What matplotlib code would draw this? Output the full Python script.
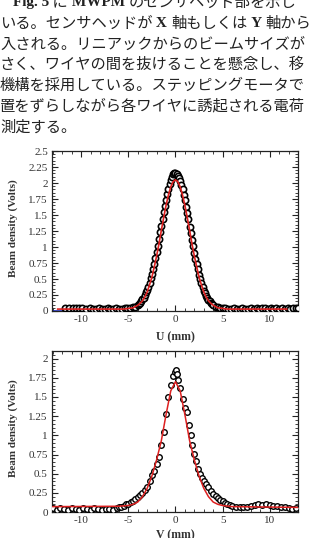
import matplotlib
matplotlib.use("Agg")
import matplotlib.pyplot as plt
from matplotlib.ticker import MultipleLocator

plt.rcParams["axes.unicode_minus"] = False

# ---- body text above the figure (each line: list of (segment, is_latin)) ----
text_lines = [
    [("Fig. 5", True), (" に", False), (" MWPM ", True), ("のセンサヘッド部を示し", False)],
    [("いる。センサヘッドが", False), (" X ", True), ("軸もしくは", False), (" Y ", True), ("軸から", False)],
    [("入される。リニアックからのビームサイズが", False)],
    [("さく、ワイヤの間を抜けることを懸念し、移", False)],
    [("機構を採用している。ステッピングモータで", False)],
    [("置をずらしながら各ワイヤに誘起される電荷", False)],
    [("測定する。", False)],
]

# ---- U profile (top panel) ----
u_pos = [-11.7, -11.3, -10.9, -10.6, -10.2, -9.9, -9.5, -9.1, -8.7, -8.4, -8.1, -7.8,
         -7.5, -7.2, -6.9, -6.6, -6.3, -6.0, -5.7, -5.4, -5.1, -4.8, -4.5, -4.25,
         -4.0, -3.875, -3.75, -3.625, -3.5, -3.375, -3.25, -3.125, -3.0, -2.875, -2.75,
         -2.625, -2.5, -2.375, -2.25, -2.125, -2.0, -1.875, -1.75, -1.625, -1.5, -1.375,
         -1.25, -1.125, -1.0, -0.875, -0.75, -0.625, -0.5, -0.375, -0.25, -0.125, 0.0,
         0.125, 0.25, 0.375, 0.5, 0.625, 0.75, 0.875, 1.0, 1.125, 1.25, 1.375, 1.5,
         1.625, 1.75, 1.875, 2.0, 2.125, 2.25, 2.375, 2.5, 2.625, 2.75, 2.875, 3.0,
         3.125, 3.25, 3.375, 3.5, 3.625, 3.75, 3.875, 4.0, 4.25, 4.5, 4.75, 5.0, 5.3,
         5.6, 5.9, 6.2, 6.5, 6.8, 7.1, 7.4, 7.7, 8.0, 8.3, 8.6, 8.9, 9.2, 9.5, 9.8,
         10.1, 10.4, 10.7, 11.0, 11.3, 11.6, 11.9, 12.2, 12.5, 12.8, 13.0]
u_density = [0.05, 0.04, 0.05, 0.04, 0.05, 0.04, 0.03, 0.04, 0.03, 0.03, 0.04, 0.03,
             0.03, 0.04, 0.03, 0.03, 0.04, 0.03, 0.03, 0.04, 0.04, 0.05, 0.06, 0.07,
             0.10, 0.11, 0.13, 0.15, 0.18, 0.21, 0.25, 0.29, 0.33, 0.38, 0.44,
             0.51, 0.58, 0.66, 0.74, 0.83, 0.92, 1.02, 1.12, 1.23, 1.33, 1.44,
             1.54, 1.64, 1.74, 1.83, 1.91, 1.98, 2.04, 2.09, 2.14, 2.16, 2.15,
             2.14, 2.11, 2.08, 2.03, 1.97, 1.90, 1.82, 1.73, 1.63, 1.53, 1.43, 1.32,
             1.22, 1.11, 1.01, 0.91, 0.82, 0.73, 0.65, 0.57, 0.50, 0.43, 0.37, 0.32,
             0.28, 0.24, 0.20, 0.17, 0.15, 0.12, 0.11, 0.09, 0.07, 0.06, 0.05, 0.04, 0.04,
             0.03, 0.03, 0.04, 0.03, 0.03, 0.04, 0.03, 0.03, 0.04, 0.03, 0.04, 0.03, 0.04, 0.04, 0.03,
             0.04, 0.03, 0.04, 0.03, 0.04, 0.03, 0.04, 0.03, 0.04, 0.05, 0.04]
u_fit_pos = [-12.5, -5.5, -5.0, -4.5, -4.0, -3.75, -3.5, -3.25, -3.0, -2.75, -2.5, -2.25,
             -2.0, -1.75, -1.5, -1.25, -1.0, -0.75, -0.5, -0.25, 0.0, 0.25, 0.5, 0.75,
             1.0, 1.25, 1.5, 1.75, 2.0, 2.25, 2.5, 2.75, 3.0, 3.25, 3.5, 3.75, 4.0, 4.5,
             5.0, 5.5, 11.8]
u_fit = [0.03, 0.03, 0.04, 0.05, 0.09, 0.12, 0.16, 0.22, 0.30, 0.41, 0.53, 0.69,
         0.86, 1.05, 1.26, 1.46, 1.65, 1.81, 1.94, 2.02, 2.05, 2.02, 1.94, 1.81,
         1.65, 1.46, 1.26, 1.05, 0.86, 0.69, 0.53, 0.41, 0.30, 0.22, 0.16, 0.12, 0.09, 0.05,
         0.04, 0.03, 0.03]
u_zero_left = [-13.1, -8.3]
u_zero_right = [12.4, 13.0]

# ---- V profile (bottom panel) ----
v_pos = [-13.0, -12.6, -12.2, -11.8, -11.4, -11.0, -10.6, -10.2, -9.8, -9.4, -9.0,
         -8.6, -8.2, -7.8, -7.4, -7.0, -6.6, -6.2, -6.0, -5.75, -5.5, -5.25, -5.0,
         -4.75, -4.5, -4.25, -4.0, -3.75, -3.5, -3.25, -3.0, -2.75, -2.5, -2.25, -2.0,
         -1.75, -1.5, -1.25, -1.0, -0.75, -0.5, -0.25, -0.1, 0.05, 0.2, 0.3, 0.5, 0.75,
         1.0, 1.2, 1.4, 1.6, 1.8, 2.0, 2.2, 2.4, 2.6, 2.8, 3.0, 3.25, 3.5, 3.75, 4.0,
         4.25, 4.5, 4.75, 5.0, 5.25, 5.5, 5.75, 6.0, 6.4, 6.8, 7.2, 7.6, 8.0, 8.4, 8.8,
         9.2, 9.6, 10.0, 10.4, 10.8, 11.2, 11.6, 12.0, 12.4, 12.8]
v_density = [0.05, 0.03, 0.05, 0.04, 0.03, 0.05, 0.04, 0.03, 0.05, 0.04, 0.03,
             0.05, 0.04, 0.03, 0.04, 0.04, 0.03, 0.05, 0.06, 0.07, 0.08, 0.10, 0.11,
             0.13, 0.15, 0.17, 0.19, 0.22, 0.25, 0.29, 0.33, 0.41, 0.48, 0.54, 0.62,
             0.72, 0.88, 1.05, 1.28, 1.50, 1.66, 1.78, 1.83, 1.85, 1.80, 1.72, 1.62, 1.48,
             1.36, 1.30, 1.14, 1.00, 0.88, 0.76, 0.66, 0.56, 0.50, 0.45, 0.40, 0.36, 0.32, 0.27, 0.23,
             0.21, 0.18, 0.16, 0.14, 0.12, 0.10, 0.09, 0.08, 0.07, 0.06, 0.07, 0.07, 0.08, 0.09, 0.10,
             0.09, 0.10, 0.09, 0.08, 0.08, 0.07, 0.06, 0.05, 0.04, 0.05]
v_fit_pos = [-13.0, -6.0, -5.0, -4.5, -4.0, -3.5, -3.0, -2.5, -2.0, -1.5, -1.0, -0.5,
             0.0, 0.5, 1.0, 1.5, 2.0, 2.5, 3.0, 3.5, 4.0, 4.5, 5.0, 6.0, 13.0]
v_fit = [0.07, 0.075, 0.085, 0.10, 0.13, 0.20, 0.31, 0.47, 0.68, 0.93, 1.27, 1.58,
         1.70, 1.58, 1.27, 0.93, 0.68, 0.47, 0.31, 0.20, 0.13, 0.10, 0.085, 0.07, 0.06]

txt_col = "#222222"
serif = ["Liberation Serif", "DejaVu Serif"]
cjk = ["Noto Sans CJK JP", "DejaVu Sans"]

fig = plt.figure(figsize=(3.12, 5.38), dpi=100)
tax = fig.add_axes([0, 0, 1, 1])
tax.set_axis_off()
tax.set_xlim(0, 1)
tax.set_ylim(0, 1)

line_y = [2.8, 23.5, 44.2, 64.9, 85.6, 106.3, 127.0]
line_x = [13, 0, 0, 0, 0, 0, 0]
for segs, yc, xs in zip(text_lines, line_y, line_x):
    prev = None
    for s, latin in segs:
        kw = dict(fontsize=11, color=txt_col, va="center", ha="left")
        if latin:
            kw.update(family=serif, weight="bold")
        else:
            kw.update(family=cjk)
        if prev is None:
            prev = tax.text(xs / 312, 1 - yc / 538, s, **kw)
        else:
            prev = tax.annotate(s, xy=(1, 0.5), xycoords=prev, **kw)


def style_axes(ax, ymax, xlabel, xlab_y):
    ax.set_xlim(-13.1, 13.0)
    ax.set_ylim(0, ymax)
    ax.xaxis.set_major_locator(MultipleLocator(5))
    ax.xaxis.set_minor_locator(MultipleLocator(1))
    ax.yaxis.set_major_locator(MultipleLocator(0.25))
    ax.yaxis.set_minor_locator(MultipleLocator(0.05))
    ax.tick_params(which="both", direction="in", top=True, right=True,
                   colors="#222222", labelcolor="#333333")
    ax.tick_params(which="major", length=4, width=0.8, labelsize=8, pad=3)
    ax.tick_params(which="minor", length=2, width=0.6)
    ax.yaxis.set_major_formatter(plt.FuncFormatter(lambda v, p: f"{v:g}"))
    for lab in ax.get_xticklabels() + ax.get_yticklabels():
        lab.set_family(serif)
    for sp in ax.spines.values():
        sp.set_linewidth(0.9)
        sp.set_color("#222222")
    ax.set_ylabel("Beam density (Volts)", family=serif, weight="bold",
                  fontsize=8, color="#333333")
    ax.yaxis.set_label_coords(-0.138, 0.52)
    ax.set_xlabel(xlabel, family=serif, weight="bold", fontsize=8.5, color="#333333")
    ax.xaxis.set_label_coords(0.5, xlab_y)


# top panel
ax1 = fig.add_axes([52 / 312, 1 - 311 / 538, 246 / 312, 160 / 538])
ax1.plot(u_zero_left, [0.006, 0.006], color="#2233cc", lw=1.2, zorder=2)
ax1.plot(u_zero_right, [0.006, 0.006], color="#2233cc", lw=1.2, zorder=2)
ax1.plot(u_pos, u_density, "o", mfc="white", mec="black", ms=4.5, mew=1.2,
         linestyle="none", zorder=3)
ax1.plot(u_fit_pos, u_fit, color="#dd2020", lw=1.2, zorder=4)
style_axes(ax1, 2.5, "U (mm)", -0.125)

# bottom panel
ax2 = fig.add_axes([52 / 312, 1 - 512 / 538, 246 / 312, 161 / 538])
ax2.plot(v_pos, v_density, "o", mfc="white", mec="black", ms=4, mew=1.0,
         linestyle="none", zorder=3)
ax2.plot(v_fit_pos, v_fit, color="#dd2020", lw=1.1, zorder=4)
style_axes(ax2, 2.1, "V (mm)", -0.105)

fig.savefig("out.png", dpi=100)
